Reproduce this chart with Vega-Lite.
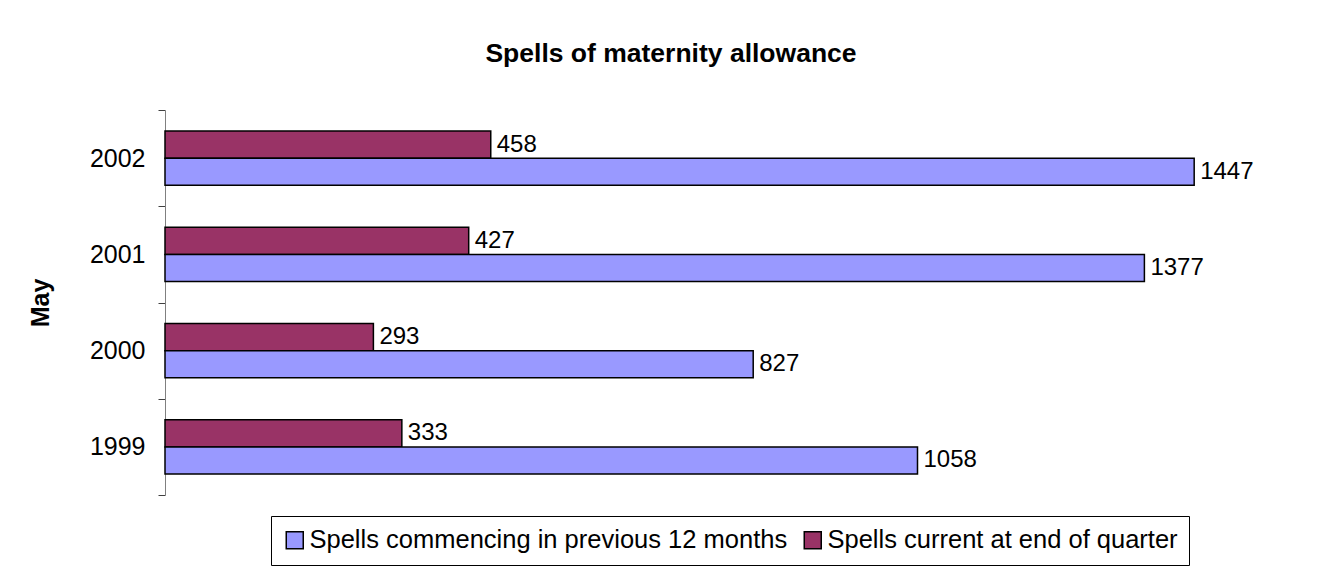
{
  "$schema": "https://vega.github.io/schema/vega-lite/v6.json",
  "autosize": {"type": "none"},
  "padding": {"left": 165, "top": 110, "right": 18, "bottom": 77},
  "width": 1138,
  "height": 385,
  "background": "white",
  "config": {
    "font": "Liberation Sans",
    "view": {"stroke": null}
  },
  "title": {
    "text": "Spells of maternity allowance",
    "font": "Liberation Sans",
    "fontSize": 26.5,
    "fontWeight": "bold",
    "color": "black",
    "anchor": "middle",
    "frame": "group",
    "dx": -63,
    "baseline": "alphabetic",
    "offset": 10
  },
  "data": {
    "values": [
      {"year": "2002", "series": "Spells current at end of quarter", "value": 458},
      {"year": "2002", "series": "Spells commencing in previous 12 months", "value": 1447},
      {"year": "2001", "series": "Spells current at end of quarter", "value": 427},
      {"year": "2001", "series": "Spells commencing in previous 12 months", "value": 1377},
      {"year": "2000", "series": "Spells current at end of quarter", "value": 293},
      {"year": "2000", "series": "Spells commencing in previous 12 months", "value": 827},
      {"year": "1999", "series": "Spells current at end of quarter", "value": 333},
      {"year": "1999", "series": "Spells commencing in previous 12 months", "value": 1058}
    ]
  },
  "encoding": {
    "y": {
      "field": "year",
      "type": "nominal",
      "sort": ["2002", "2001", "2000", "1999"],
      "scale": {"paddingInner": 0, "paddingOuter": 0},
      "axis": {
        "title": "May",
        "titleFont": "Liberation Sans",
        "titleFontSize": 25,
        "titleFontWeight": "bold",
        "titleColor": "black",
        "titlePadding": 36,
        "labelFont": "Liberation Sans",
        "labelFontSize": 25,
        "labelColor": "black",
        "labelPadding": 13,
        "tickSize": 7,
        "tickColor": "#404040",
        "domainColor": "#808080",
        "tickBand": "extent",
        "grid": false
      }
    },
    "yOffset": {
      "field": "series",
      "type": "nominal",
      "sort": ["Spells current at end of quarter", "Spells commencing in previous 12 months"],
      "scale": {"paddingInner": 0, "paddingOuter": 0.78}
    },
    "x": {
      "field": "value",
      "type": "quantitative",
      "scale": {"domain": [0, 1600], "nice": false},
      "axis": null
    }
  },
  "layer": [
    {
      "mark": {"type": "bar", "stroke": "black", "strokeWidth": 1.5},
      "encoding": {
        "color": {
          "field": "series",
          "type": "nominal",
          "scale": {
            "domain": ["Spells commencing in previous 12 months", "Spells current at end of quarter"],
            "range": ["#9999FF", "#993366"]
          },
          "legend": {
            "title": null,
            "orient": "none",
            "legendX": 106,
            "legendY": 406,
            "direction": "horizontal",
            "symbolType": "square",
            "symbolSize": 289,
            "symbolStrokeColor": "black",
            "symbolStrokeWidth": 1.5,
            "symbolOpacity": 1,
            "labelFont": "Liberation Sans",
            "labelFontSize": 25.5,
            "labelColor": "black",
            "labelLimit": 1000,
            "labelOffset": 2,
            "columnPadding": 12,
            "strokeColor": "black",
            "padding": 11
          }
        }
      }
    },
    {
      "mark": {"type": "text", "align": "left", "baseline": "middle", "dx": 6, "fontSize": 24, "font": "Liberation Sans", "color": "black"},
      "encoding": {
        "text": {"field": "value", "type": "quantitative"}
      }
    }
  ]
}
